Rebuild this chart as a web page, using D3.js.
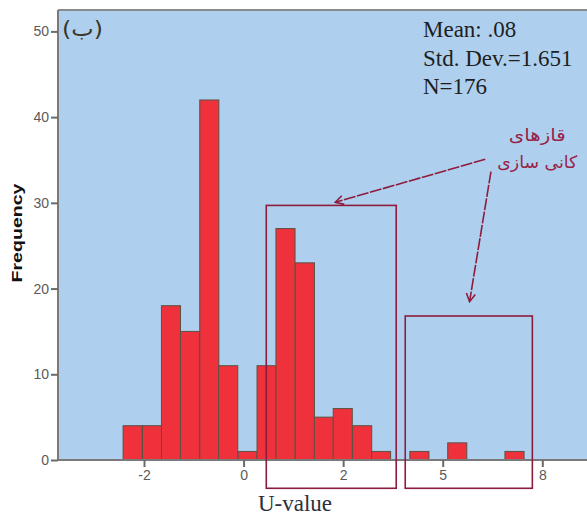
<!DOCTYPE html>
<html>
<head>
<meta charset="utf-8">
<script src="https://cdn.jsdelivr.net/npm/d3@7"></script>
<style>
  html, body { margin: 0; padding: 0; background: #ffffff; }
  svg { display: block; }
</style>
</head>
<body>
<svg id="chart" width="587" height="515"></svg>
<script>
// ---- data ----
const binStart = [-2.42, -2.03, -1.65, -1.27, -0.88, -0.50, -0.11, 0.27, 0.65, 1.04, 1.42, 1.80, 2.19, 2.57, 3.34, 4.10, 5.25];
const binCount = [4, 4, 18, 15, 42, 11, 1, 11, 27, 23, 5, 6, 4, 1, 1, 2, 1];
const binWidth = 0.3835;
const yTicks = [0, 10, 20, 30, 40, 50];
const xTickPos = [-2, 0, 2, 4, 6];
const xTickLabels = ["-2", "0", "2", "5", "8"];
const statLines = ["Mean: .08", "Std. Dev.=1.651", "N=176"];
const panelLabel = "(ب)";
const noteLines = ["قازهای", "کانی سازی"];
// annotation boxes in data units: [x0, x1, yTop, yBottom]
const boxes = [[0.456, 3.066, 29.7, -3.3], [3.247, 5.80, 16.8, -3.3]];
// annotation arrows in data units: [xFrom, yFrom, xTo, yTo]
const arrows = [[4.854, 35.08, 1.842, 30.07], [4.969, 33.64, 4.539, 18.47]];

// ---- layout ----
const svg = d3.select("#chart");
const plot = { left: 58, top: 10, right: 600, bottom: 460 };
const x = d3.scaleLinear().domain([-2, 6]).range([144, 542.3]);
const y = d3.scaleLinear().domain([0, 50]).range([plot.bottom, 31.4]);

svg.append("rect").attr("width", 587).attr("height", 515).attr("fill", "#ffffff");

// plot background
svg.append("rect")
  .attr("x", plot.left).attr("y", plot.top)
  .attr("width", plot.right - plot.left).attr("height", plot.bottom - plot.top)
  .attr("fill", "#aed0ee");

// bars
svg.append("g").selectAll("rect")
  .data(binStart.map((s, i) => ({ s, c: binCount[i] })))
  .join("rect")
  .attr("x", d => x(d.s))
  .attr("width", d => x(d.s + binWidth) - x(d.s))
  .attr("y", d => y(d.c))
  .attr("height", d => y(0) - y(d.c))
  .attr("fill", "#ef313c")
  .attr("stroke", "#5a5244")
  .attr("stroke-width", 1);

// frame line (top)
svg.append("line").attr("x1", plot.left).attr("x2", plot.right)
  .attr("y1", plot.top).attr("y2", plot.top)
  .attr("stroke", "#8a8a8a").attr("stroke-width", 2);

const tickFont = "Liberation Sans, Arial, sans-serif";

// y axis
const yAxis = svg.append("g")
  .attr("transform", `translate(${plot.left},0)`)
  .call(d3.axisLeft(y).tickValues(yTicks).tickSize(7).tickPadding(2).tickSizeOuter(0));
yAxis.select(".domain").attr("stroke", "#7a7a7a").attr("stroke-width", 2)
  .attr("d", `M0,${plot.top}V${plot.bottom}`);
yAxis.selectAll(".tick line").attr("stroke", "#6a6a6a").attr("stroke-width", 2);
yAxis.selectAll(".tick text")
  .attr("fill", "#5a5a5a").attr("font-family", tickFont)
  .attr("font-size", 14);

// x axis
const xAxis = svg.append("g")
  .attr("transform", `translate(0,${plot.bottom})`)
  .call(d3.axisBottom(x).tickValues(xTickPos).tickFormat((d, i) => xTickLabels[i])
        .tickSize(7).tickPadding(3).tickSizeOuter(0));
xAxis.select(".domain").attr("stroke", "#7a7a7a").attr("stroke-width", 2)
  .attr("d", `M${plot.left},0H${plot.right}`);
xAxis.selectAll(".tick line").attr("stroke", "#6a6a6a").attr("stroke-width", 2);
xAxis.selectAll(".tick text")
  .attr("fill", "#5a5a5a").attr("font-family", tickFont)
  .attr("font-size", 14);

// axis titles
svg.append("text")
  .attr("transform", "translate(22,233) rotate(-90)")
  .attr("text-anchor", "middle")
  .attr("font-family", "Liberation Sans, Arial, sans-serif")
  .attr("font-weight", "bold").attr("font-size", 15)
  .attr("textLength", 99).attr("lengthAdjust", "spacingAndGlyphs")
  .attr("fill", "#111")
  .text("Frequency");

svg.append("text")
  .attr("x", 258).attr("y", 511)
  .attr("font-family", "Liberation Serif, Times New Roman, serif")
  .attr("font-size", 23).attr("fill", "#2b2f3c")
  .text("U-value");

// panel label
svg.append("text")
  .attr("x", 62).attr("y", 36)
  .attr("font-family", "DejaVu Sans, sans-serif")
  .attr("font-size", 21).attr("fill", "#3a3526")
  .attr("textLength", 41).attr("lengthAdjust", "spacingAndGlyphs")
  .text(panelLabel);

// stats
svg.append("g").selectAll("text")
  .data(statLines).join("text")
  .attr("x", 423).attr("y", (d, i) => 37 + i * 28.6)
  .attr("font-family", "Liberation Serif, Times New Roman, serif")
  .attr("font-size", 23).attr("fill", "#1e1e1e")
  .text(d => d);

// annotation boxes
const annColor = "#8e1b3c";
svg.append("g").selectAll("rect")
  .data(boxes).join("rect")
  .attr("x", d => x(d[0])).attr("y", d => y(d[2]))
  .attr("width", d => x(d[1]) - x(d[0])).attr("height", d => y(d[3]) - y(d[2]))
  .attr("fill", "none").attr("stroke", annColor).attr("stroke-width", 1.6);

// arrowhead marker
svg.append("defs").append("marker")
  .attr("id", "arr").attr("markerUnits", "userSpaceOnUse")
  .attr("markerWidth", 14).attr("markerHeight", 14)
  .attr("refX", 10).attr("refY", 7).attr("orient", "auto")
  .attr("viewBox", "0 0 14 14")
  .append("path").attr("d", "M2,2.5 L10,7 L2,11.5")
  .attr("fill", "none").attr("stroke", annColor).attr("stroke-width", 1.6);

svg.append("g").selectAll("line")
  .data(arrows).join("line")
  .attr("x1", d => x(d[0])).attr("y1", d => y(d[1]))
  .attr("x2", d => x(d[2])).attr("y2", d => y(d[3]))
  .attr("stroke", annColor).attr("stroke-width", 1.6)
  .attr("stroke-dasharray", "12 1.5")
  .attr("marker-end", "url(#arr)");

// annotation text
const noteWidths = [57, 80];
svg.append("g").selectAll("text")
  .data(noteLines).join("text")
  .attr("x", x(5.9)).attr("y", (d, i) => y(37.2) + i * 27)
  .attr("text-anchor", "middle")
  .attr("direction", "rtl")
  .attr("font-family", "DejaVu Sans, sans-serif")
  .attr("font-size", 17).attr("fill", "#9a2348")
  .attr("textLength", (d, i) => noteWidths[i]).attr("lengthAdjust", "spacingAndGlyphs")
  .text(d => d);
</script>
</body>
</html>
